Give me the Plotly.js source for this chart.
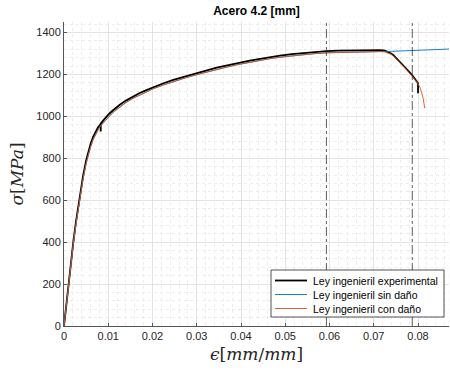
<!DOCTYPE html>
<html>
<head>
<meta charset="utf-8">
<script src="https://cdn.plot.ly/plotly-3.0.1.min.js"></script>
<style>html,body{margin:0;padding:0;background:#fff;}#chart{width:450px;height:375px;}</style>
</head>
<body>
<div id="chart"></div>
<script>
// Experimental engineering law (black)
const expStrain = [0, 0.0005, 0.0010, 0.0015, 0.0021, 0.0027, 0.0033, 0.0038, 0.0043, 0.0050, 0.0055, 0.0060, 0.0066, 0.0072, 0.0077, 0.0081, 0.0083, 0.0083, 0.0083, 0.0087, 0.0093, 0.0100, 0.0107, 0.0115, 0.0126, 0.0140, 0.0156, 0.0170, 0.0185, 0.0202, 0.0225, 0.0247, 0.0275, 0.0300, 0.0325, 0.0345, 0.0370, 0.0393, 0.0420, 0.0440, 0.0465, 0.0488, 0.0515, 0.0540, 0.0565, 0.0593, 0.0620, 0.0650, 0.0680, 0.0700, 0.0715, 0.0725, 0.0732, 0.0738, 0.0744, 0.0751, 0.0758, 0.0766, 0.0774, 0.0782, 0.0789, 0.0795, 0.0800, 0.0800];
const expStress = [0, 103, 202, 300, 400, 497, 585, 652, 715, 790, 832, 868, 903, 930, 948, 958, 965, 928, 965, 976, 992, 1008, 1022, 1037, 1055, 1075, 1095, 1110, 1124, 1140, 1158, 1174, 1192, 1207, 1221, 1232, 1244, 1255, 1266, 1273, 1283, 1290, 1297, 1302, 1307, 1311, 1313, 1315, 1316, 1317, 1316, 1313, 1308, 1301, 1293, 1278, 1262, 1244, 1226, 1208, 1190, 1174, 1158, 1110];

// Model without damage (blue)
const noDamStrain = [0, 0.0005, 0.0010, 0.0015, 0.0021, 0.0027, 0.0033, 0.0038, 0.0043, 0.0050, 0.0055, 0.0060, 0.0066, 0.0072, 0.0078, 0.0085, 0.0093, 0.0100, 0.0107, 0.0115, 0.0126, 0.0140, 0.0156, 0.0170, 0.0185, 0.0202, 0.0225, 0.0247, 0.0275, 0.0300, 0.0325, 0.0345, 0.0370, 0.0393, 0.0420, 0.0440, 0.0465, 0.0488, 0.0515, 0.0540, 0.0565, 0.0593, 0.0620, 0.0650, 0.0680, 0.0700, 0.0715, 0.0725, 0.0740, 0.0760, 0.0800, 0.0840, 0.0870];
const noDamStress = [0, 100, 196, 292, 390, 485, 572, 638, 700, 775, 818, 854, 890, 918, 940, 960, 980, 996, 1011, 1026, 1045, 1066, 1086, 1101, 1116, 1132, 1150, 1166, 1184, 1199, 1213, 1224, 1236, 1247, 1258, 1265, 1275, 1282, 1289, 1294, 1299, 1303, 1305, 1307, 1308, 1309, 1309, 1309.5, 1310, 1312, 1315, 1318, 1321];

// Model with damage (orange)
const damStrain = [0, 0.0005, 0.0010, 0.0015, 0.0021, 0.0027, 0.0033, 0.0038, 0.0043, 0.0050, 0.0055, 0.0060, 0.0066, 0.0072, 0.0078, 0.0085, 0.0093, 0.0100, 0.0107, 0.0115, 0.0126, 0.0140, 0.0156, 0.0170, 0.0185, 0.0202, 0.0225, 0.0247, 0.0275, 0.0300, 0.0325, 0.0345, 0.0370, 0.0393, 0.0420, 0.0440, 0.0465, 0.0488, 0.0515, 0.0540, 0.0565, 0.0593, 0.0620, 0.0650, 0.0680, 0.0700, 0.0715, 0.0725, 0.0732, 0.0738, 0.0744, 0.0751, 0.0758, 0.0766, 0.0774, 0.0782, 0.0789, 0.0795, 0.0800, 0.0804, 0.0808, 0.0812, 0.0815];
const damStress = [0, 100, 196, 292, 390, 485, 572, 638, 700, 775, 818, 854, 890, 918, 940, 960, 980, 996, 1011, 1026, 1045, 1066, 1086, 1101, 1116, 1132, 1150, 1166, 1184, 1199, 1213, 1224, 1236, 1247, 1258, 1265, 1275, 1282, 1289, 1294, 1299, 1303, 1305, 1307, 1308, 1309, 1309, 1307, 1303, 1297, 1289, 1275, 1259, 1241, 1222, 1204, 1186, 1170, 1156, 1140, 1115, 1082, 1039];

// Vertical reference lines (strain)
const refLines = [0.0593, 0.0787];

const seriesNames = ['Ley ingenieril experimental', 'Ley ingenieril sin daño', 'Ley ingenieril con daño'];
const seriesColors = ['#000000', '#0072BD', '#D95319'];
const seriesWidths = [1.8, 0.9, 0.9];
const xTicks = [0, 0.01, 0.02, 0.03, 0.04, 0.05, 0.06, 0.07, 0.08];
const xTickText = ['0', '0.01', '0.02', '0.03', '0.04', '0.05', '0.06', '0.07', '0.08'];
const yTicks = [0, 200, 400, 600, 800, 1000, 1200, 1400];

const traces = [
  {x: expStrain, y: expStress, name: seriesNames[0], mode: 'lines', line: {color: seriesColors[0], width: seriesWidths[0]}},
  {x: noDamStrain, y: noDamStress, name: seriesNames[1], mode: 'lines', line: {color: seriesColors[1], width: seriesWidths[1]}},
  {x: damStrain, y: damStress, name: seriesNames[2], mode: 'lines', line: {color: seriesColors[2], width: seriesWidths[2]}}
];

// plot area geometry (pixels) for a MATLAB-style legend box
const W = 450, H = 375, mL = 64, mR = 1, mT = 22, mB = 49;
const pw = W - mL - mR, ph = H - mT - mB;
const px = v => (v - mL) / pw;
const py = v => (H - mB - v) / ph;

const shapes = refLines.map(v => ({
  type: 'line', xref: 'x', yref: 'paper', x0: v, x1: v, y0: 0, y1: 1,
  line: {color: '#333333', width: 0.8, dash: 'dashdot'}, layer: 'above'
}));

// legend box
shapes.push({type: 'rect', xref: 'paper', yref: 'paper', x0: px(271), x1: px(444), y0: py(317), y1: py(270),
  fillcolor: '#ffffff', line: {color: '#262626', width: 0.8}, layer: 'above'});
const rowY = [280.5, 294.5, 308.5];
const annotations = [];
seriesNames.forEach((n, i) => {
  shapes.push({type: 'line', xref: 'paper', yref: 'paper', x0: px(275), x1: px(307), y0: py(rowY[i]), y1: py(rowY[i]),
    line: {color: seriesColors[i], width: seriesWidths[i]}, layer: 'above'});
  annotations.push({xref: 'paper', yref: 'paper', x: px(311), y: py(rowY[i]), xanchor: 'left', yanchor: 'middle',
    text: n, showarrow: false, font: {size: 10.5, color: '#000000'}});
});

const layout = {
  width: W, height: H,
  margin: {l: mL, r: mR, t: mT, b: mB},
  paper_bgcolor: '#ffffff', plot_bgcolor: '#ffffff',
  font: {family: 'Liberation Sans, Arial, sans-serif', size: 11, color: '#262626'},
  title: {text: '<b>Acero 4.2 [mm]</b>', font: {size: 12, color: '#000000'}, x: 0.5, xref: 'paper', xanchor: 'center', y: 0.97, yref: 'container', yanchor: 'middle'},
  showlegend: false,
  xaxis: {
    range: [0, 0.087], tickvals: xTicks, ticktext: xTickText,
    showgrid: true, gridcolor: '#e3e3e3', gridwidth: 1,
    minor: {dtick: 0.002, showgrid: true, gridcolor: '#ececec', griddash: 'dot', gridwidth: 1},
    showline: true, linecolor: '#555555', linewidth: 1, mirror: false,
    ticks: 'inside', ticklen: 3, tickcolor: '#555555', zeroline: false,
    tickfont: {size: 11, color: '#262626'},
    title: {text: '<i>ϵ</i>[<i>mm</i>/<i>mm</i>]', font: {family: 'DejaVu Serif, Liberation Serif, serif', size: 17, color: '#262626'}, standoff: 6}
  },
  yaxis: {
    range: [0, 1450], tickvals: yTicks,
    showgrid: true, gridcolor: '#e3e3e3', gridwidth: 1,
    minor: {dtick: 40, showgrid: true, gridcolor: '#ececec', griddash: 'dot', gridwidth: 1},
    showline: true, linecolor: '#555555', linewidth: 1, mirror: false,
    ticks: 'inside', ticklen: 3, tickcolor: '#555555', zeroline: false,
    tickfont: {size: 11, color: '#262626'},
    title: {text: '<i>σ</i>[<i>MPa</i>]', font: {family: 'DejaVu Serif, Liberation Serif, serif', size: 17, color: '#262626'}, standoff: 8}
  },
  shapes: shapes,
  annotations: annotations
};

Plotly.newPlot('chart', traces, layout, {displayModeBar: false, staticPlot: true});
</script>
</body>
</html>
